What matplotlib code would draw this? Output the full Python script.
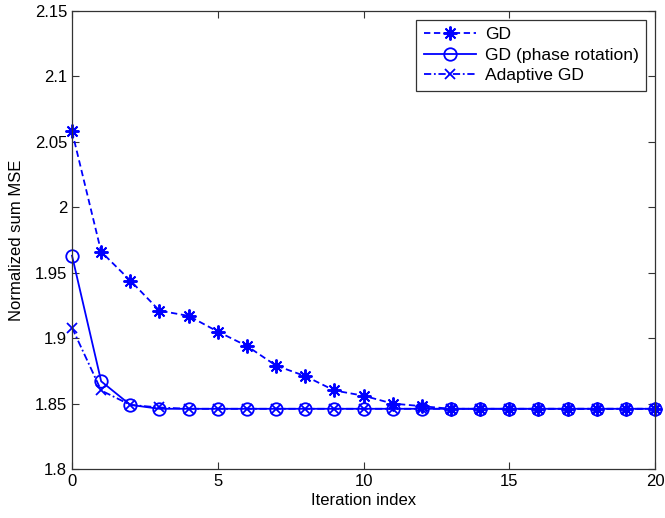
import numpy as np
from matplotlib import pyplot as plt
from matplotlib.ticker import FuncFormatter

plt.rcParams['font.family'] = ['Liberation Sans', 'DejaVu Sans']

## Data
iters = np.arange(0, 21)
gd = [2.058, 1.966, 1.944, 1.921, 1.917, 1.905, 1.894, 1.879, 1.871, 1.860,
      1.856, 1.850, 1.848, 1.846, 1.846, 1.846, 1.846, 1.846, 1.846, 1.846, 1.846]
gd_phase = [1.963, 1.867, 1.849, 1.846, 1.846, 1.846, 1.846, 1.846, 1.846, 1.846,
            1.846, 1.846, 1.846, 1.846, 1.846, 1.846, 1.846, 1.846, 1.846, 1.846, 1.846]
adaptive = [1.908, 1.860, 1.849, 1.847, 1.846, 1.846, 1.846, 1.846, 1.846, 1.846,
            1.846, 1.846, 1.846, 1.846, 1.846, 1.846, 1.846, 1.846, 1.846, 1.846, 1.846]

#%%
fig = plt.figure(figsize=(6.65, 5.18), dpi=100)
ax = fig.add_axes([0.1083, 0.0946, 0.8767, 0.8842])

blue = (0, 0, 1)
ax.plot(iters, gd, linestyle=(0, (3.5, 2)), marker=(8, 2, 0), color=blue, lw=1.3,
        markersize=10, markeredgewidth=1.4, label='GD', clip_on=False)
ax.plot(iters, gd_phase, linestyle='-', marker='o', color=blue, lw=1.3,
        markersize=9, markerfacecolor='none', markeredgewidth=1.3,
        label='GD (phase rotation)', clip_on=False)
ax.plot(iters, adaptive, linestyle=(0, (4, 1.5, 1, 1.5)), marker='x', color=blue, lw=1.3,
        markersize=7, markeredgewidth=1.3, label='Adaptive GD', clip_on=False)

ax.set_xlim(0, 20)
ax.set_ylim(1.8, 2.15)
ax.set_xticks([0, 5, 10, 15, 20])
ax.set_yticks(np.arange(1.8, 2.151, 0.05))
ax.yaxis.set_major_formatter(FuncFormatter(lambda v, p: ('%.2f' % v).rstrip('0').rstrip('.')))

ax.tick_params(direction='in', length=5, width=0.8, labelsize=12,
               top=True, right=True, colors='#333333', labelcolor='black')
for s in ax.spines.values():
    s.set_color('#333333')
    s.set_linewidth(0.9)

ax.set_xlabel('Iteration index', fontsize=12, labelpad=3)
ax.set_ylabel('Normalized sum MSE', fontsize=12, labelpad=8)

leg = ax.legend(loc='upper right', fontsize=12.6, fancybox=False, framealpha=1,
                edgecolor='#333333', handlelength=3.0, borderpad=0.42,
                labelspacing=0.3, handletextpad=0.5, borderaxespad=0.5)
leg.get_frame().set_linewidth(0.9)

fig.savefig('out.png', dpi=100)
